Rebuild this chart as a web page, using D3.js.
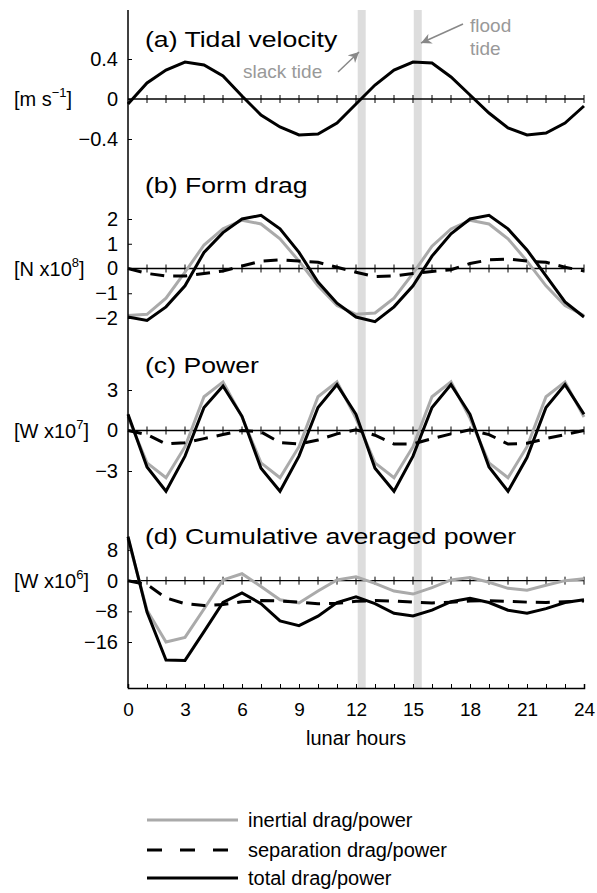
<!DOCTYPE html>
<html>
<head>
<meta charset="utf-8">
<script src="https://cdn.jsdelivr.net/npm/d3@7"></script>
<style>
  body { margin: 0; background: #fff; }
  svg { font-family: "Liberation Sans", Arial, sans-serif; }
</style>
</head>
<body>
<svg id="svg" width="597" height="893"></svg>
<script>
var hours = d3.range(0, 25);
var hourLabels = [0, 3, 6, 9, 12, 15, 18, 21, 24];
var shadedHours = [12.3, 15.25];

// (a) tidal velocity [m/s]
var velocity = [-0.05, 0.16, 0.29, 0.37, 0.34, 0.23, 0.03, -0.16, -0.28, -0.36, -0.35, -0.24, -0.05,
                0.14, 0.29, 0.37, 0.36, 0.22, 0.04, -0.14, -0.29, -0.36, -0.34, -0.24, -0.07];

// (b) form drag [N x1e8]
var dragInertial = [-1.9, -1.85, -1.2, -0.15, 0.95, 1.6, 1.95, 1.8, 1.2, 0.3, -0.7, -1.5, -1.85,
                    -1.8, -1.2, -0.2, 0.9, 1.6, 1.95, 1.8, 1.2, 0.3, -0.7, -1.5, -1.9];
var dragSeparation = [0, -0.2, -0.3, -0.3, -0.2, -0.1, 0.1, 0.3, 0.35, 0.3, 0.25, 0.05, -0.15,
                      -0.33, -0.3, -0.2, -0.12, -0.05, 0.2, 0.35, 0.38, 0.3, 0.25, 0.05, -0.1];
var dragTotal = [-1.96, -2.1, -1.55, -0.7, 0.65, 1.45, 2.0, 2.15, 1.6, 0.65, -0.55, -1.4, -1.96,
                 -2.15, -1.55, -0.7, 0.5, 1.4, 2.0, 2.15, 1.6, 0.75, -0.3, -1.35, -1.96];

// (c) power [W x1e7]
var powerInertial = [1.0, -2.4, -3.5, -1.2, 2.5, 3.6, 1.0, -2.4, -3.5, -1.2, 2.5, 3.6, 0.9,
                     -2.4, -3.5, -1.2, 2.5, 3.6, 0.9, -2.4, -3.5, -1.2, 2.5, 3.6, 1.0];
var powerSeparation = [0, -0.3, -1.0, -0.9, -0.6, -0.3, 0, -0.1, -0.9, -1.0, -0.7, -0.25, 0.05,
                       -0.35, -1.0, -1.0, -0.6, -0.25, 0.05, -0.3, -1.0, -0.95, -0.6, -0.3, 0];
var powerTotal = [1.2, -2.7, -4.5, -1.9, 1.7, 3.3, 1.05, -2.8, -4.5, -1.9, 1.7, 3.4, 1.2,
                  -2.8, -4.5, -1.9, 1.7, 3.4, 1.2, -2.7, -4.5, -2.0, 1.7, 3.4, 1.2];

// (d) cumulative averaged power [W x1e6]
var cumInertial = [11, -7.7, -16, -14.8, -7.4, 0.2, 1.8, -1.5, -5, -5.8, -2.7, 0.2, 1.0,
                   -0.7, -2.7, -3.5, -1.8, 0.2, 0.8, -0.4, -2, -2.5, -1.2, 0, 0.5];
var cumSeparation = [0, -1, -4.5, -6, -6.5, -6.2, -5.5, -5.2, -5.3, -5.6, -6, -5.9, -5.4,
                     -5.2, -5.3, -5.6, -5.8, -5.6, -5.3, -5.2, -5.4, -5.6, -5.7, -5.5, -5.3];
var cumTotal = [11.5, -8.2, -20.7, -20.8, -13.3, -5.7, -3.2, -6.0, -10.5, -11.75, -9.25, -5.7, -4.2,
                -6, -8.5, -9.2, -7.7, -5.5, -4.6, -5.7, -7.7, -8.5, -7.3, -5.7, -5];

var legendLabels = ['inertial drag/power', 'separation drag/power', 'total drag/power'];

var svg = d3.select('svg');
var axisTop = 10, axisBottom = 688;

var x = d3.scaleLinear().domain([0, 24]).range([128, 584]);

var styles = [
    {stroke: '#aaa', dash: null},
    {stroke: '#000', dash: '14,9'},
    {stroke: '#000', dash: null}
];

var panels = [
    {title: '(a) Tidal velocity', ty: 47, unit: ['[m s', '\u22121', ']'],
     y: d3.scaleLinear().domain([-0.4, 0.4]).range([139, 59]), ticks: [-0.4, 0, 0.4],
     fmt: function(d){ return d === 0 ? '0' : d3.format('.1f')(d).replace('-', '\u2212'); },
     series: [null, null, velocity]},
    {title: '(b) Form drag', ty: 193, unit: ['[N x10', '8', ']'],
     y: d3.scaleLinear().domain([-2, 2]).range([318, 219]), ticks: [-2, -1, 0, 1, 2],
     fmt: function(d){ return String(d).replace('-', '\u2212'); },
     series: [dragInertial, dragSeparation, dragTotal]},
    {title: '(c) Power', ty: 373, unit: ['[W x10', '7', ']'],
     y: d3.scaleLinear().domain([-3, 3]).range([471, 390]), ticks: [-3, 0, 3],
     fmt: function(d){ return String(d).replace('-', '\u2212'); },
     series: [powerInertial, powerSeparation, powerTotal]},
    {title: '(d) Cumulative averaged power', ty: 544, unit: ['[W x10', '6', ']'],
     y: d3.scaleLinear().domain([-16, 8]).range([642, 550]), ticks: [-16, -8, 0, 8],
     fmt: function(d){ return String(d).replace('-', '\u2212'); },
     series: [cumInertial, cumSeparation, cumTotal]}
];

// shaded bands
svg.selectAll('rect.band')
    .data(shadedHours)
    .enter()
    .append('rect')
    .attr('class', 'band')
    .attr('x', function(d){ return x(d) - 4; })
    .attr('y', axisTop)
    .attr('width', 8)
    .attr('height', axisBottom - axisTop)
    .attr('fill', '#ddd');

panels.forEach(function(p){
    var g = svg.append('g');

    // y axis ticks + labels
    var yAxis = d3.axisLeft(p.y).tickValues(p.ticks).tickSize(-4).tickPadding(10).tickFormat(p.fmt);
    var ag = g.append('g').attr('transform', 'translate(' + x(0) + ',0)').call(yAxis);
    ag.select('.domain').remove();
    ag.selectAll('line').attr('stroke', '#000').attr('stroke-width', 1);
    ag.selectAll('text').attr('font-size', 20).attr('fill', '#000')
        .attr('font-family', '"Liberation Sans", Arial, sans-serif');

    // zero line with hourly ticks
    var y0 = p.y(0);
    g.append('line')
        .attr('x1', x(0)).attr('x2', x(24))
        .attr('y1', y0).attr('y2', y0)
        .attr('stroke', '#000').attr('stroke-width', 1.3);
    g.selectAll('line.ht')
        .data(hours.slice(1))
        .enter()
        .append('line')
        .attr('class', 'ht')
        .attr('x1', function(d){ return x(d); }).attr('x2', function(d){ return x(d); })
        .attr('y1', y0 - 4).attr('y2', y0 + 4)
        .attr('stroke', '#000').attr('stroke-width', 1);

    // unit label
    var ut = g.append('text')
        .attr('x', 14).attr('y', y0 + 7)
        .attr('font-size', 20);
    ut.append('tspan').text(p.unit[0]);
    ut.append('tspan').attr('dy', -9).attr('font-size', 13).text(p.unit[1]);
    ut.append('tspan').attr('dy', 9).text(p.unit[2]);

    // title
    g.append('text')
        .attr('transform', 'translate(145,' + p.ty + ') scale(1.21,1)')
        .attr('font-size', 22)
        .text(p.title);

    // series
    var line = d3.line()
        .x(function(d, i){ return x(hours[i]); })
        .y(function(d){ return p.y(d); });
    p.series.forEach(function(s, i){
        if (!s) return;
        g.append('path')
            .datum(s)
            .attr('d', line)
            .attr('fill', 'none')
            .attr('stroke', styles[i].stroke)
            .attr('stroke-width', 3)
            .attr('stroke-dasharray', styles[i].dash)
            .attr('stroke-linejoin', 'miter');
    });
});

// main vertical axis
svg.append('line')
    .attr('x1', x(0)).attr('x2', x(0))
    .attr('y1', axisTop).attr('y2', axisBottom)
    .attr('stroke', '#000').attr('stroke-width', 1.5);

// bottom axis
var xAxis = d3.axisBottom(x).tickValues(hours).tickSize(-4).tickPadding(15)
    .tickFormat(function(d){ return hourLabels.indexOf(d) >= 0 ? d : ''; });
var xg = svg.append('g').attr('transform', 'translate(0,' + axisBottom + ')').call(xAxis);
xg.select('.domain').attr('stroke-width', 1.5);
xg.selectAll('text').attr('font-size', 19).attr('fill', '#000')
    .attr('font-family', '"Liberation Sans", Arial, sans-serif');

svg.append('text')
    .attr('x', 356).attr('y', 745)
    .attr('text-anchor', 'middle')
    .attr('font-size', 20)
    .text('lunar hours');

// annotations
svg.append('defs').append('marker')
    .attr('id', 'arr')
    .attr('viewBox', '0 0 10 10')
    .attr('refX', 10).attr('refY', 5)
    .attr('markerWidth', 7).attr('markerHeight', 7)
    .attr('orient', 'auto')
    .append('path')
    .attr('d', 'M0,0 L10,5 L0,10 L3,5 Z')
    .attr('fill', '#888');

svg.append('text').attr('x', 243).attr('y', 78).attr('font-size', 19).attr('fill', '#999').text('slack tide');
svg.append('text').attr('x', 470).attr('y', 32).attr('font-size', 19).attr('fill', '#999').text('flood');
svg.append('text').attr('x', 470).attr('y', 55).attr('font-size', 19).attr('fill', '#999').text('tide');

svg.append('line')
    .attr('x1', 338).attr('y1', 72).attr('x2', 359).attr('y2', 52)
    .attr('stroke', '#888').attr('stroke-width', 1.5)
    .attr('marker-end', 'url(#arr)');
svg.append('line')
    .attr('x1', 463).attr('y1', 24).attr('x2', 421).attr('y2', 43)
    .attr('stroke', '#888').attr('stroke-width', 1.5)
    .attr('marker-end', 'url(#arr)');

// legend
var lg = svg.selectAll('g.leg')
    .data(legendLabels)
    .enter()
    .append('g')
    .attr('class', 'leg')
    .attr('transform', function(d, i){ return 'translate(0,' + [820, 850, 878][i] + ')'; });
lg.append('line')
    .attr('x1', 147).attr('x2', 238)
    .attr('stroke', function(d, i){ return styles[i].stroke; })
    .attr('stroke-width', 3)
    .attr('stroke-dasharray', function(d, i){ return styles[i].dash ? '15,18' : null; });
lg.append('text')
    .attr('x', 248).attr('y', 7)
    .attr('font-size', 20)
    .text(function(d){ return d; });
</script>
</body>
</html>
